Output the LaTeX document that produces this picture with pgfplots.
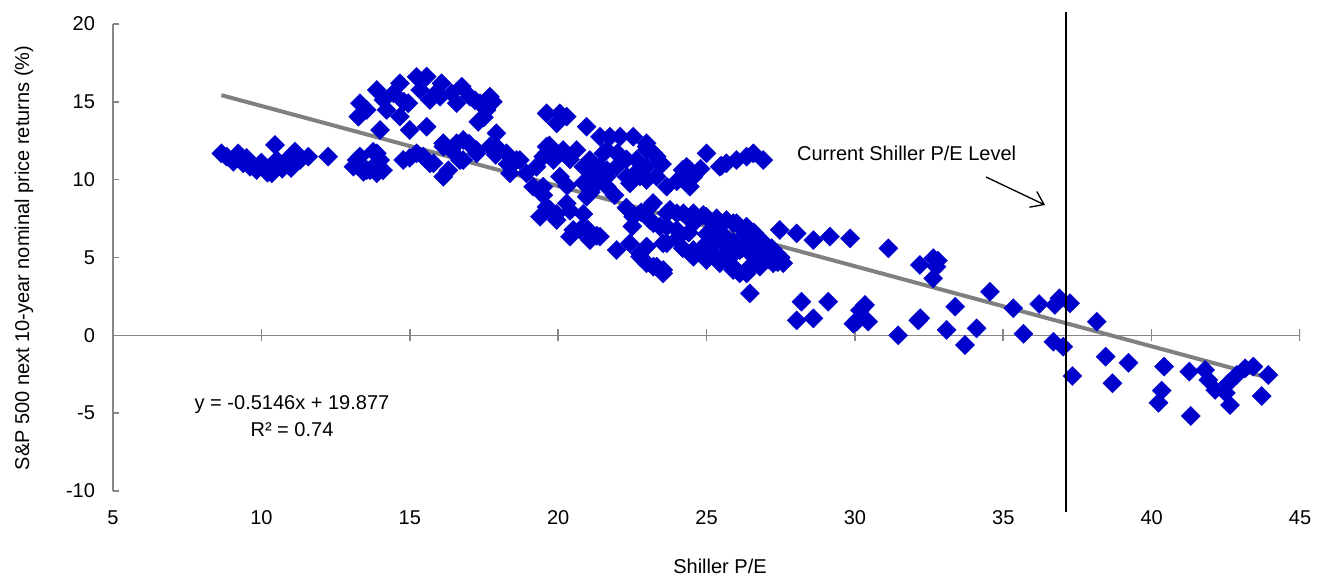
\documentclass[border=0pt]{standalone}
\usepackage{fontspec}
\setmainfont{Liberation Sans}
\usepackage{pgfplots}
\pgfplotsset{compat=1.18}
\usepackage{pgfplotstable}
\usetikzlibrary{arrows.meta}
\definecolor{ptblue}{RGB}{0,0,204}
\definecolor{axgray}{RGB}{134,134,134}
\definecolor{trendgray}{RGB}{128,128,128}

\pgfplotstableread{
x y
8.65 11.69
8.83 11.48
9.05 11.15
9.22 11.69
9.39 11.05
9.5 11.4
9.62 10.83
9.84 10.62
10.0 11.1
10.07 10.83
10.2 10.45
10.35 10.41
10.46 12.23
10.52 11.26
10.7 10.7
10.85 11.26
11.0 10.75
11.13 11.80
11.30 11.26
11.58 11.48
12.25 11.48
13.10 10.83
13.21 11.26
13.32 11.48
13.44 10.5
13.55 10.62
13.66 10.62
13.77 11.80
13.89 11.69
13.89 10.41
14.0 11.26
14.1 10.6
13.32 14.91
13.27 14.05
13.55 14.48
13.89 15.76
14.00 13.19
14.11 15.12
14.22 14.48
14.45 15.55
14.67 16.19
14.67 14.05
14.8 15.0
14.95 14.91
15.00 13.19
15.23 16.6
15.35 15.76
15.57 16.62
15.57 13.40
15.68 15.12
15.9 15.6
16.02 15.33
16.07 16.19
16.41 15.55
16.58 14.91
16.75 15.97
17.03 15.33
17.2 15.1
17.37 14.91
17.59 14.48
17.70 15.33
17.80 15.0
17.31 13.72
17.5 14.0
14.78 11.26
15.0 11.4
15.23 11.69
15.46 11.48
15.68 11.05
15.8 11.05
16.13 10.19
16.13 12.12
16.3 10.6
16.13 12.34
16.4 11.9
16.58 12.34
16.69 11.26
16.80 12.55
16.80 11.26
17.0 12.3
17.25 11.69
17.25 11.90
17.70 12.12
17.9 11.6
17.92 12.98
17.92 12.12
18.26 11.69
18.3 11.0
18.38 10.41
18.6 11.26
18.71 11.26
18.93 10.41
19.27 10.83
19.16 9.55
19.5 9.0
19.5 9.55
19.50 11.48
19.61 11.69
19.61 12.12
19.61 14.26
19.7 12.2
19.84 11.90
19.84 11.26
19.95 13.62
20.06 14.26
20.06 10.2
20.17 11.90
20.2 11.7
20.29 14.05
20.3 9.6
20.4 11.3
20.62 11.90
20.85 10.83
20.85 9.8
20.96 13.40
20.96 10.8
21.07 11.26
21.1 9.2
21.18 10.41
21.30 9.77
21.41 12.76
21.4 10.8
21.52 11.69
21.64 11.90
21.64 10.19
21.64 10.62
21.64 9.55
21.75 12.76
21.9 9.0
21.97 10.83
22.0 11.7
22.09 12.76
22.09 11.48
22.3 11.3
22.31 10.19
22.42 9.77
22.53 12.76
22.64 11.26
22.7 10.6
22.76 10.2
22.98 12.34
22.98 12.12
22.98 11.90
22.98 10.83
22.98 9.98
23.21 11.69
23.32 11.48
23.43 11.05
23.5 11.0
23.32 10.19
23.66 9.55
24.0 9.9
24.2 10.62
24.33 10.83
24.33 9.98
24.44 10.62
24.44 9.55
24.56 10.19
24.8 10.7
25.0 11.69
25.45 10.83
25.5 10.9
25.67 11.05
26.01 11.26
26.35 11.48
26.58 11.69
26.91 11.26
19.39 7.62
19.61 8.26
19.73 8.05
19.95 7.41
19.95 7.8
20.29 8.48
20.4 8.0
20.40 6.34
20.51 6.77
20.74 6.77
20.85 7.8
20.96 8.91
21.0 6.8
21.07 6.12
21.3 6.4
21.41 6.34
21.97 5.48
22.3 8.2
22.42 5.91
22.5 7.0
22.53 7.62
22.76 5.27
22.76 5.05
22.8 7.9
23.1 7.4
23.10 8.26
23.2 8.5
23.21 7.20
23.21 4.41
23.43 6.98
23.54 4.20
23.54 3.98
23.66 7.84
23.66 6.98
23.66 5.91
23.77 8.05
23.54 5.91
22.98 5.70
22.98 4.63
23.32 4.41
24.0 7.84
24.0 6.77
24.0 6.2
24.2 5.6
24.22 7.84
24.4 6.6
24.56 7.84
24.56 7.20
24.56 5.48
24.56 5.05
24.6 5.2
24.89 7.73
25.0 7.6
25.0 6.5
25.0 5.91
25.0 5.70
25.0 5.27
25.0 4.84
25.2 6.3
25.2 5.3
25.3 6.0
25.3 7.0
25.34 7.52
25.34 6.12
25.45 4.84
25.45 4.63
25.6 6.4
25.6 5.0
25.67 7.41
25.67 5.70
25.7 5.9
25.90 7.2
25.90 4.41
25.90 4.20
25.9 6.0
26.0 5.4
26.01 7.20
26.12 5.48
26.12 3.98
26.2 5.6
26.3 6.5
26.35 6.98
26.35 3.98
26.4 5.8
26.46 4.41
26.46 2.70
26.5 5.2
26.6 6.6
26.8 5.5
26.8 5.0
26.80 4.41
26.9 6.0
27.0 5.2
27.1 4.9
27.2 5.6
27.25 4.63
27.4 4.7
27.5 5.0
27.47 6.77
27.59 4.63
28.04 6.55
28.60 6.12
29.16 6.34
29.84 6.23
28.20 2.16
28.04 0.96
28.60 1.09
29.10 2.16
29.95 0.75
30.06 0.88
30.17 1.61
30.34 1.95
30.45 0.88
31.13 5.59
31.46 0.0
32.14 0.96
32.2 1.1
32.19 4.52
32.64 4.95
32.75 4.41
32.64 3.66
32.8 4.8
33.09 0.35
33.38 1.84
33.71 -0.62
34.10 0.45
34.55 2.80
35.34 1.74
35.68 0.1
36.21 2.01
36.69 -0.41
36.74 1.95
36.89 2.38
37.02 -0.73
37.25 2.06
37.33 -2.61
38.15 0.88
38.45 -1.37
38.68 -3.08
39.22 -1.76
40.42 -2.01
40.34 -3.55
40.23 -4.33
41.27 -2.33
41.32 -5.18
41.80 -2.23
41.91 -2.87
42.14 -3.51
42.5 -3.7
42.58 -3.08
42.64 -4.48
42.87 -2.55
43.15 -2.12
43.43 -2.01
43.71 -3.90
43.93 -2.55
}\scatterdata

\begin{document}
\begin{tikzpicture}[font=\fontsize{15}{18}\selectfont]
\useasboundingbox (0,0) rectangle (997.5pt,432pt);
\begin{axis}[
  at={(84.75pt,63.75pt)}, anchor=south west,
  scale only axis, width=890.25pt, height=350.25pt,
  xmin=5, xmax=45, ymin=-10, ymax=20,
  axis x line*=bottom, axis y line*=left,
  x axis line style={draw=none},
  y axis line style={axgray, line width=1.2pt},
  xtick={5,10,15,20,25,30,35,40,45},
  xticklabels={5,10,15,20,25,30,35,40,45},
  ytick={-10,-5,0,5,10,15,20},
  yticklabels={-10,-5,0,5,10,15,20},
  xtick style={draw=none},
  ytick style={axgray, line width=1.2pt},
  tick align=inside, major tick length=4.5pt,
  xticklabel style={font=\fontsize{15}{18}\selectfont, yshift=-11pt},
  yticklabel style={font=\fontsize{15}{18}\selectfont, xshift=-10pt},
]
\draw[axgray, line width=1.2pt] (axis cs:5,0) -- (axis cs:45,0);
\draw[axgray, line width=1.2pt] ([yshift=-4.5pt]axis cs:10,0) -- ([yshift=4.5pt]axis cs:10,0);
\draw[axgray, line width=1.2pt] ([yshift=-4.5pt]axis cs:15,0) -- ([yshift=4.5pt]axis cs:15,0);
\draw[axgray, line width=1.2pt] ([yshift=-4.5pt]axis cs:20,0) -- ([yshift=4.5pt]axis cs:20,0);
\draw[axgray, line width=1.2pt] ([yshift=-4.5pt]axis cs:25,0) -- ([yshift=4.5pt]axis cs:25,0);
\draw[axgray, line width=1.2pt] ([yshift=-4.5pt]axis cs:30,0) -- ([yshift=4.5pt]axis cs:30,0);
\draw[axgray, line width=1.2pt] ([yshift=-4.5pt]axis cs:35,0) -- ([yshift=4.5pt]axis cs:35,0);
\draw[axgray, line width=1.2pt] ([yshift=-4.5pt]axis cs:40,0) -- ([yshift=4.5pt]axis cs:40,0);
\draw[axgray, line width=1.2pt] ([yshift=-4.5pt]axis cs:45,0) -- ([yshift=4.5pt]axis cs:45,0);
\addplot[only marks, mark=square*, mark size=5.1pt,
  mark options={rotate=45, fill=ptblue, draw=ptblue, line width=0.2pt}]
  table {\scatterdata};
\addplot[trendgray, line width=3pt] coordinates {(8.65,15.43) (43.95,-2.74)};
\end{axis}
\draw[black, line width=1.5pt] (799.4pt,48pt) -- (799.4pt,423pt);
\node[rotate=90] at (18pt,238.5pt) {S\&P 500 next 10-year nominal price returns (\%)};
\node at (540pt,7.5pt) {Shiller P/E};
\node at (219pt,128.25pt) {y = -0.5146x + 19.877};
\node at (219pt,109.5pt) {R² = 0.74};
\node[anchor=base] at (680pt,311.5pt) {Current Shiller P/E Level};
\draw[line width=1pt, -{Straight Barb[length=9pt,width=13pt]}] (739.5pt,299.25pt) -- (783.75pt,278.25pt);
\end{tikzpicture}
\end{document}
